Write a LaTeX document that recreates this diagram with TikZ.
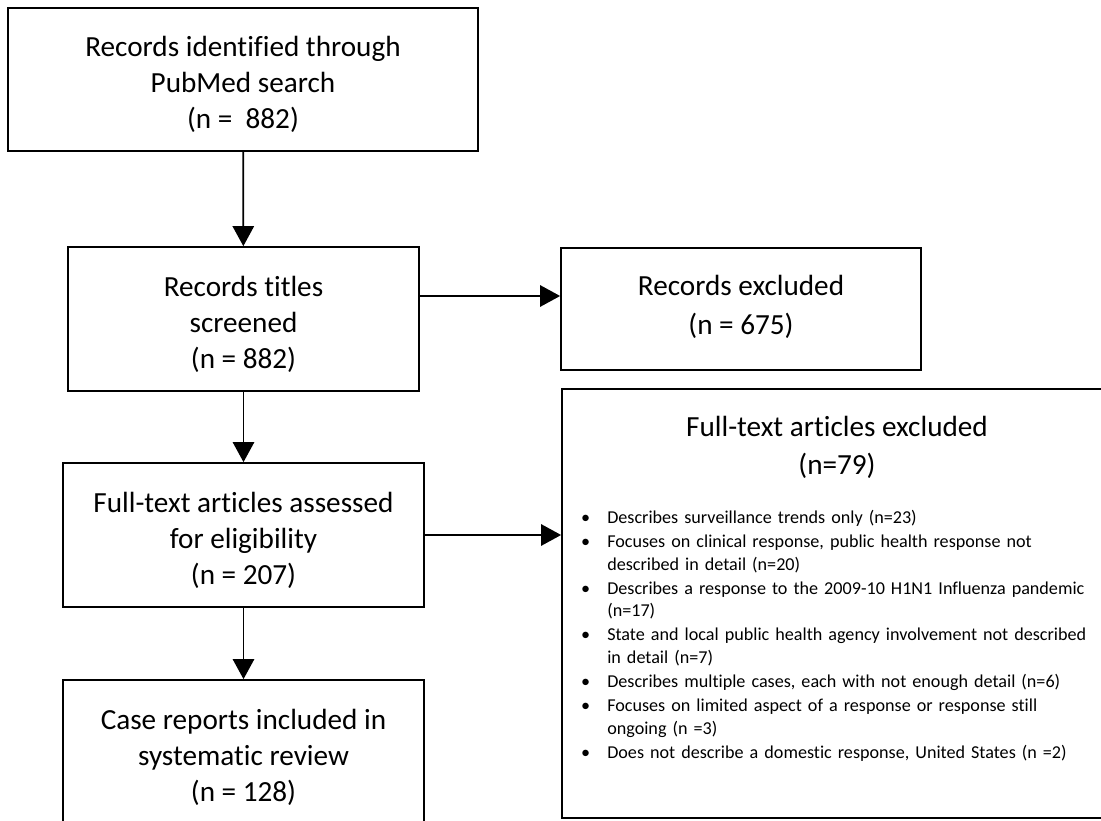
\documentclass[tikz,border=0pt]{standalone}
\usepackage{fontspec}
\setmainfont{Carlito}[Ligatures=NoCommon]
\usetikzlibrary{arrows.meta}

\tikzset{
  box/.style={draw, line width=1.3pt, inner sep=0pt, align=center,
    font=\fontsize{21.9}{27}\selectfont, text height=75pt, text depth=1.5pt},
  arrow/.style={line width=1.3pt, -{Triangle[length=15pt,width=16pt]}}
}

\begin{document}
\begin{tikzpicture}[x=0.75pt,y=-0.75pt]
  \useasboundingbox (0,0) rectangle (1101,821);

  % Left column
  \node[box, minimum width=352.5pt, minimum height=107.25pt] (ident) at (243,79.5)
    {Records identified through\\PubMed search\\(n = \ 882)};
  \node[box, minimum width=263.25pt, minimum height=108pt] (screen) at (243.5,319)
    {Records titles\\screened\\(n = 882)};
  \node[box, minimum width=270.75pt, minimum height=108pt] (assess) at (243.5,535)
    {Full-text articles assessed\\for eligibility\\(n = 207)};
  \node[box, minimum width=270.75pt, minimum height=112.5pt, text height=70.5pt] (incl) at (243.5,755)
    {Case reports included in\\systematic review\\(n = 128)};

  % Right column
  \node[box, minimum width=270pt, minimum height=91.5pt, font=\fontsize{21.9}{29}\selectfont,
    text height=39pt] (recexcl) at (741,309)
    {Records excluded\\(n = 675)};
  \node[box, minimum width=412.5pt, minimum height=321.75pt, text height=0pt, text depth=0pt]
    (fullexcl) at (837,603.5) {};
  \node[align=center, inner sep=0pt, font=\fontsize{21.9}{28.5}\selectfont] (fullhead) at (837,447)
    {Full-text articles excluded\\(n=79)};
  \node[anchor=north west, text width=396pt, inner sep=0pt,
    font=\fontsize{13.6}{16.9}\selectfont] (reasons) at (579,490) {%
    \setlength\leftmargini{21pt}\setlength\labelsep{12.75pt}\raggedright
    \begin{itemize}\setlength\itemsep{1.2pt}\setlength\parskip{0pt}
      \item Describes surveillance trends only (n=23)
      \item Focuses on clinical response, public health response not\newline described in detail (n=20)
      \item Describes a response to the 2009-10 H1N1 Influenza pandemic\newline (n=17)
      \item State and local public health agency involvement not described\newline in detail (n=7)
      \item Describes multiple cases, each with not enough detail (n=6)
      \item Focuses on limited aspect of a response or response still\newline ongoing (n =3)
      \item Does not describe a domestic response, United States (n =2)
    \end{itemize}};

  % Arrows
  \draw[arrow] (ident) -- (screen);
  \draw[arrow] ([yshift=17.25pt]screen.east) -- ([yshift=17.25pt]screen.east -| recexcl.west);
  \draw[arrow] (screen) -- (assess);
  \draw[arrow] (assess.east) -- (assess.east -| fullexcl.west);
  \draw[arrow] (assess) -- (incl);
\end{tikzpicture}
\end{document}
